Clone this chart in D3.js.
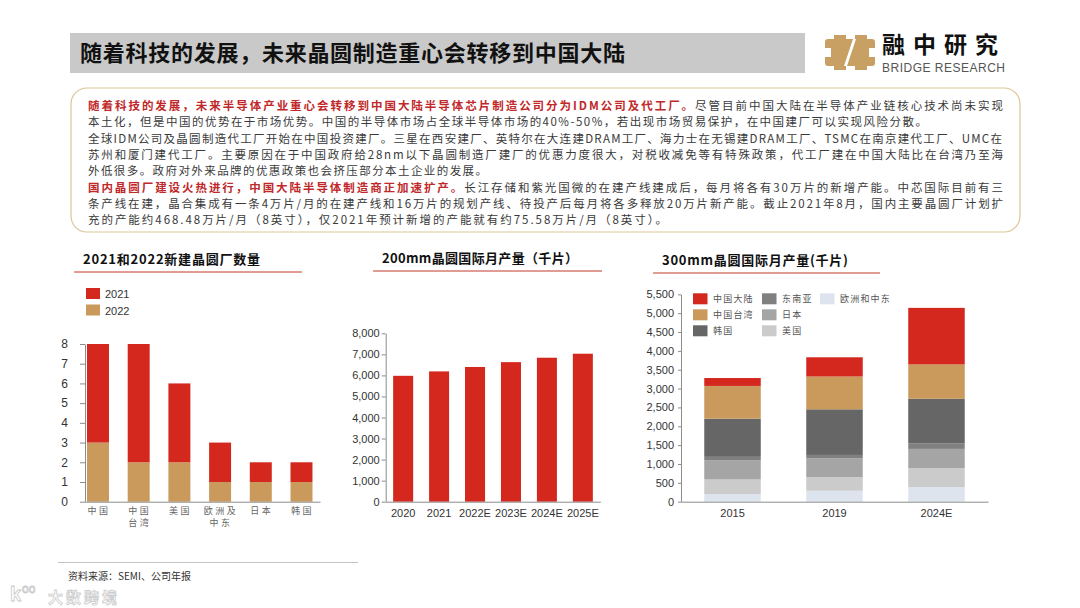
<!DOCTYPE html>
<html>
<head>
<meta charset="utf-8">
<script src="https://cdn.jsdelivr.net/npm/d3@7"></script>
<style>
    body { margin: 0; background: #fff; }
    svg { display: block; }
    text { font-family: "Liberation Sans", "Noto Sans CJK SC", sans-serif; }
    .cjk { font-family: "Noto Sans CJK SC", sans-serif; }
</style>
</head>
<body>
<svg id="page" width="1080" height="608"></svg>
<script>
// ---- data ----
const fabRegions = ['中国', '中国\n台湾', '美国', '欧洲及\n中东', '日本', '韩国'];
const fabs2021 = [5, 6, 4, 2, 1, 1];
const fabs2022 = [3, 2, 2, 1, 1, 1];
const fabTicks = [0, 1, 2, 3, 4, 5, 6, 7, 8];

const years200 = ['2020', '2021', '2022E', '2023E', '2024E', '2025E'];
const cap200 = [5980, 6190, 6400, 6630, 6840, 7030];
const ticks200 = [0, 1000, 2000, 3000, 4000, 5000, 6000, 7000, 8000];

const years300 = ['2015', '2019', '2024E'];
const regions300 = ['欧洲和中东', '美国', '日本', '东南亚', '韩国', '中国台湾', '中国大陆'];
const euMe300 = [200, 290, 390];
const usa300 = [390, 360, 500];
const japan300 = [510, 500, 510];
const seAsia300 = [90, 90, 150];
const korea300 = [1010, 1210, 1180];
const taiwan300 = [870, 870, 910];
const mainland300 = [210, 510, 1500];
const ticks300 = [0, 500, 1000, 1500, 2000, 2500, 3000, 3500, 4000, 4500, 5000, 5500];

const bodyLines = [
    [['随着科技的发展，未来半导体产业重心会转移到中国大陆半导体芯片制造公司分为IDM公司及代工厂。', 1], ['尽管目前中国大陆在半导体产业链核心技术尚未实现', 0]],
    [['本土化，但是中国的优势在于市场优势。中国的半导体市场占全球半导体市场的40%-50%，若出现市场贸易保护，在中国建厂可以实现风险分散。', 0]],
    [['全球IDM公司及晶圆制造代工厂开始在中国投资建厂。三星在西安建厂、英特尔在大连建DRAM工厂、海力士在无锡建DRAM工厂、TSMC在南京建代工厂、UMC在', 0]],
    [['苏州和厦门建代工厂。主要原因在于中国政府给28nm以下晶圆制造厂建厂的优惠力度很大，对税收减免等有特殊政策，代工厂建在中国大陆比在台湾乃至海', 0]],
    [['外低很多。政府对外来品牌的优惠政策也会挤压部分本土企业的发展。', 0]],
    [['国内晶圆厂建设火热进行，中国大陆半导体制造商正加速扩产。', 1], ['长江存储和紫光国微的在建产线建成后，每月将各有30万片的新增产能。中芯国际目前有三', 0]],
    [['条产线在建，晶合集成有一条4万片/月的在建产线和16万片的规划产线、待投产后每月将各多释放20万片新产能。截止2021年8月，国内主要晶圆厂计划扩', 0]],
    [['充的产能约468.48万片/月（8英寸），仅2021年预计新增的产能就有约75.58万片/月（8英寸）。', 0]]
];
const bodyLineEnds = [1003, 927, 1002, 1003, 487, 1003, 1003, 667];

const RED = '#d4281f';
const TAN = '#c99a5b';
const colors300 = {
    '中国大陆': RED, '中国台湾': TAN, '韩国': '#666666', '东南亚': '#808080',
    '日本': '#a5a5a5', '美国': '#cbcbcb', '欧洲和中东': '#dee4ee'
};

const svg = d3.select('#page');

// stretch a text's letter spacing so it spans the target width
const fitWidth = (sel, target) => {
    const node = sel.node();
    const w = node.getComputedTextLength();
    const n = node.textContent.length;
    sel.attr('letter-spacing', (target - w) / Math.max(1, n - 1));
};

// ---- header ----
svg.append('rect').attr('x', 70).attr('y', 33).attr('width', 735).attr('height', 40).attr('fill', '#c9c9c9');
const title = svg.append('text').attr('class', 'cjk')
    .attr('x', 80).attr('y', 61)
    .attr('font-size', 22).attr('font-weight', 'bold').attr('fill', '#111')
    .text('随着科技的发展，未来晶圆制造重心会转移到中国大陆');
fitWidth(title, 545);

// logo
const logo = svg.append('g').attr('transform', 'translate(825, 35)');
logo.append('rect').attr('x', 0).attr('y', 4).attr('width', 50).attr('height', 27).attr('rx', 3).attr('fill', '#c9a064');
logo.append('rect').attr('x', 9).attr('y', 0).attr('width', 12).attr('height', 35).attr('fill', '#c9a064');
logo.append('rect').attr('x', 30).attr('y', 0).attr('width', 12).attr('height', 35).attr('fill', '#c9a064');
logo.append('rect').attr('x', 0).attr('y', 13).attr('width', 6).attr('height', 9).attr('fill', '#fff');
logo.append('rect').attr('x', 44).attr('y', 13).attr('width', 6).attr('height', 9).attr('fill', '#fff');
logo.append('path').attr('d', 'M28,4 L31,4 L22,31 L19,31 Z').attr('fill', '#fff');
svg.append('text').attr('class', 'cjk').attr('x', 882).attr('y', 53)
    .attr('font-size', 23).attr('font-weight', 'bold').attr('fill', '#111')
    .attr('letter-spacing', 8).text('融中研究');
const brand = svg.append('text').attr('x', 882).attr('y', 72)
    .attr('font-size', 12).attr('fill', '#555').text('BRIDGE RESEARCH');
fitWidth(brand, 123);

// ---- text box ----
svg.append('rect').attr('x', 71).attr('y', 88).attr('width', 949).attr('height', 144)
    .attr('rx', 16).attr('fill', '#fff').attr('stroke', '#dcc597').attr('stroke-width', 1.2);
bodyLines.forEach((line, i) => {
    const t = svg.append('text').attr('class', 'cjk')
        .attr('x', 88).attr('y', 110 + i * 16.3)
        .attr('font-size', 11.5).attr('fill', '#3a3a3a');
    line.forEach(seg => {
        t.append('tspan').text(seg[0])
            .attr('fill', seg[1] ? '#c0282a' : '#3a3a3a')
            .attr('font-weight', seg[1] ? 'bold' : 'normal');
    });
    fitWidth(t, bodyLineEnds[i] - 88);
});

// chart heading with red rule
const heading = (x, y, label, width, ruleX0, ruleX1) => {
    const t = svg.append('text').attr('class', 'cjk').attr('x', x).attr('y', y)
        .attr('font-size', 13).attr('font-weight', 'bold').attr('fill', '#111').text(label);
    fitWidth(t, width);
    svg.append('line').attr('x1', ruleX0).attr('x2', ruleX1).attr('y1', y + 8).attr('y2', y + 8)
        .attr('stroke', '#c0392b').attr('stroke-width', 1);
};

const styleAxis = (g) => {
    g.selectAll('.domain').attr('stroke', '#8c8c8c');
    g.selectAll('.tick line').attr('stroke', '#8c8c8c');
    g.selectAll('.tick text').attr('fill', '#333').attr('font-family', '"Liberation Sans", sans-serif');
};

// ---- chart 1: new fabs ----
heading(83, 264, '2021和2022新建晶圆厂数量', 177, 74, 302);
const x1 = d3.scaleBand().domain(fabRegions).range([85, 320]).paddingInner(0.46).paddingOuter(0.117).align(0.21);
const y1 = d3.scaleLinear().domain([0, 8]).range([501.7, 344]);
fabRegions.forEach((r, i) => {
    svg.append('rect').attr('x', x1(r)).attr('width', x1.bandwidth())
        .attr('y', y1(fabs2022[i])).attr('height', y1(0) - y1(fabs2022[i])).attr('fill', TAN);
    svg.append('rect').attr('x', x1(r)).attr('width', x1.bandwidth())
        .attr('y', y1(fabs2022[i] + fabs2021[i])).attr('height', y1(fabs2022[i]) - y1(fabs2022[i] + fabs2021[i])).attr('fill', RED);
});
const g1y = svg.append('g').attr('transform', 'translate(85,0)')
    .call(d3.axisLeft(y1).tickValues(fabTicks).tickSize(5).tickPadding(12).tickSizeOuter(0));
g1y.selectAll('.tick text').attr('font-size', 12);
styleAxis(g1y);
const g1x = svg.append('g').attr('transform', 'translate(0,501.7)')
    .call(d3.axisBottom(x1).tickSize(0).tickSizeOuter(0).tickFormat(''));
styleAxis(g1x);
fabRegions.forEach(r => {
    r.split('\n').forEach((part, j) => {
        svg.append('text').attr('class', 'cjk').attr('x', x1(r) + x1.bandwidth() / 2 + 1).attr('y', 514 + j * 11.5)
            .attr('text-anchor', 'middle').attr('font-size', 9).attr('letter-spacing', 2.5)
            .attr('fill', '#666').text(part);
    });
});
[['2021', RED], ['2022', TAN]].forEach((d, i) => {
    svg.append('rect').attr('x', 86).attr('y', 288 + i * 16.5).attr('width', 14).attr('height', 11).attr('fill', d[1]);
    svg.append('text').attr('x', 105).attr('y', 298 + i * 16.5).attr('font-size', 11).attr('fill', '#333').text(d[0]);
});

// ---- chart 2: 200mm ----
heading(382, 263, '200mm晶圆国际月产量（千片）', 196, 373, 602);
const x2 = d3.scaleBand().domain(years200).range([385.7, 600.3]).paddingInner(0.443).paddingOuter(0.207);
const y2 = d3.scaleLinear().domain([0, 8000]).range([501.7, 333.3]);
svg.append('g').selectAll('rect').data(years200).join('rect')
    .attr('x', d => x2(d)).attr('width', x2.bandwidth())
    .attr('y', (d, i) => y2(cap200[i])).attr('height', (d, i) => y2(0) - y2(cap200[i]))
    .attr('fill', RED);
const g2y = svg.append('g').attr('transform', 'translate(385.7,0)')
    .call(d3.axisLeft(y2).tickValues(ticks200).tickSize(4).tickPadding(2).tickSizeOuter(0).tickFormat(d3.format(',')));
g2y.selectAll('.tick text').attr('font-size', 11);
styleAxis(g2y);
const g2x = svg.append('g').attr('transform', 'translate(0,501.7)')
    .call(d3.axisBottom(x2).tickSize(0).tickPadding(8).tickSizeOuter(0));
g2x.selectAll('.tick text').attr('font-size', 11);
styleAxis(g2x);

// ---- chart 3: 300mm stacked ----
heading(662, 265, '300mm晶圆国际月产量(千片)', 186, 653, 880);
const series300 = {
    '欧洲和中东': euMe300, '美国': usa300, '日本': japan300, '东南亚': seAsia300,
    '韩国': korea300, '中国台湾': taiwan300, '中国大陆': mainland300
};
const table300 = years300.map((y, i) => {
    const row = {year: y};
    regions300.forEach(r => { row[r] = series300[r][i]; });
    return row;
});
const stack300 = d3.stack().keys(regions300)(table300);
const x3 = d3.scaleBand().domain(years300).range([681, 988]).paddingInner(0.446).paddingOuter(0.228);
const y3 = d3.scaleLinear().domain([0, 5500]).range([501.7, 294.3]);
svg.append('g').selectAll('g').data(stack300).join('g')
    .attr('fill', d => colors300[d.key])
    .selectAll('rect').data(d => d).join('rect')
    .attr('x', d => x3(d.data.year)).attr('width', x3.bandwidth())
    .attr('y', d => y3(d[1])).attr('height', d => y3(d[0]) - y3(d[1]));
const g3y = svg.append('g').attr('transform', 'translate(681,0)')
    .call(d3.axisLeft(y3).tickValues(ticks300).tickSize(3).tickPadding(4).tickSizeOuter(0).tickFormat(d3.format(',')));
g3y.selectAll('.tick text').attr('font-size', 11);
styleAxis(g3y);
const g3x = svg.append('g').attr('transform', 'translate(0,501.7)')
    .call(d3.axisBottom(x3).tickSize(0).tickPadding(8).tickSizeOuter(0));
g3x.selectAll('.tick text').attr('font-size', 11);
styleAxis(g3x);

const legend300 = [
    ['中国大陆', 0, 0], ['中国台湾', 0, 1], ['韩国', 0, 2],
    ['东南亚', 1, 0], ['日本', 1, 1], ['美国', 1, 2],
    ['欧洲和中东', 2, 0]
];
const legendCols = [693, 762, 820];
legend300.forEach(d => {
    const lx = legendCols[d[1]], ly = 293.3 + d[2] * 16;
    svg.append('rect').attr('x', lx).attr('y', ly).attr('width', 14.5).attr('height', 11).attr('fill', colors300[d[0]]);
    svg.append('text').attr('class', 'cjk').attr('x', lx + 20).attr('y', ly + 9)
        .attr('font-size', 9).attr('letter-spacing', 1.2).attr('fill', '#555').text(d[0]);
});

// ---- footer ----
svg.append('line').attr('x1', 58).attr('x2', 358).attr('y1', 562.5).attr('y2', 562.5)
    .attr('stroke', '#b5b5b5').attr('stroke-width', 0.8);
svg.append('text').attr('class', 'cjk').attr('x', 68).attr('y', 580)
    .attr('font-size', 10).attr('fill', '#333').text('资料来源：SEMI、公司年报');
svg.append('text').attr('class', 'cjk').attr('x', 48).attr('y', 603)
    .attr('font-size', 15).attr('font-weight', 'bold').attr('fill', '#fff')
    .attr('stroke', '#c8c8c8').attr('stroke-width', 0.8).attr('opacity', 0.9)
    .attr('letter-spacing', 3).text('大数跨境');
svg.append('text').attr('x', 10).attr('y', 601)
    .attr('font-size', 20).attr('font-weight', 'bold').attr('fill', '#fff')
    .attr('stroke', '#c8c8c8').attr('stroke-width', 0.8).text('k');
svg.append('text').attr('x', 22).attr('y', 593)
    .attr('font-size', 12).attr('fill', '#fff')
    .attr('stroke', '#c8c8c8').attr('stroke-width', 0.8).text('oo');
</script>
</body>
</html>
